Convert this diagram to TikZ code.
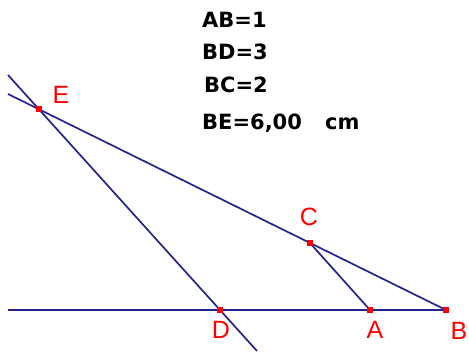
\documentclass[tikz,border=0pt]{standalone}
\usepackage{fontspec}
\setmainfont{Liberation Sans}
\newfontfamily\infofont{DejaVu Sans}
\definecolor{linecol}{RGB}{36,36,140}
\definecolor{ptred}{RGB}{255,0,0}
\tikzset{
  geoline/.style={draw=linecol, line width=1.7pt},
  ptdot/.style={rectangle, fill=ptred, inner sep=0pt, minimum size=5.5pt},
  ptlabel/.style={text=ptred, font=\fontsize{25}{25}\selectfont, inner sep=0pt},
  infotext/.style={font=\infofont\bfseries\fontsize{21}{21}\selectfont, anchor=west, inner sep=0pt},
}
\begin{document}
\begin{tikzpicture}[x=1pt, y=-1pt]
\useasboundingbox[fill=white] (0,0) rectangle (469,353);
% free ends
\coordinate (H0) at (8,310);
\coordinate (EB0) at (8,94);
\coordinate (ED0) at (8,75);
\coordinate (ED1) at (257,351);
% points
\node[ptdot] (E) at (39,109) {};
\node[ptdot] (C) at (310,243) {};
\node[ptdot] (D) at (220,310) {};
\node[ptdot] (A) at (370,310) {};
\node[ptdot] (B) at (446,310) {};
% lines
\draw[geoline] (H0) -- (B.center);
\draw[geoline] (EB0) -- (B.center);
\draw[geoline] (ED0) -- (ED1);
\draw[geoline] (C.center) -- (A.center);
% redraw dots on top
\foreach \p in {E,C,D,A,B} \fill[ptred] (\p.south west) rectangle (\p.north east);
% labels
\node[ptlabel] (lE) at (61,95) {E};
\node[ptlabel] (lC) at (309,217) {C};
\node[ptlabel] (lD) at (221,330) {D};
\node[ptlabel] (lA) at (375,330) {A};
\node[ptlabel] (lB) at (459,331) {B};
% info text
\node[infotext] (t1) at (202,20) {AB=1};
\node[infotext] (t2) at (202,52) {BD=3};
\node[infotext] (t3) at (204,85) {BC=2};
\node[infotext] (t4) at (202,123) {BE=6,00\hspace{1.1em}cm};
\end{tikzpicture}
\end{document}
